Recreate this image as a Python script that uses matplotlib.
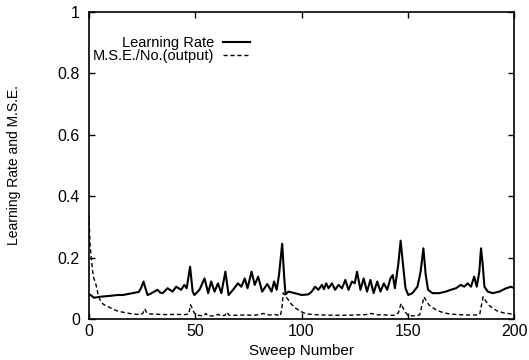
import matplotlib
matplotlib.use("Agg")
import matplotlib.pyplot as plt

plt.rcParams['font.family'] = ['Liberation Sans', 'DejaVu Sans']

# Learning rate per sweep
lr_sweep = [0, 0.8, 2.4, 5, 8, 11, 13.4, 16, 19, 21.3,
            23.5, 24.5, 25.7, 26.6, 27.6, 29, 30.7, 32.3, 33.5, 34.7,
            37.0, 39.4, 41.0, 43.4, 44.9, 46.0, 47.6, 48.8, 49.6, 52.0,
            54.4, 56.1, 57.5, 59.1, 60.7, 62.3, 64.2, 65.7, 67.8, 70.1,
            71.7, 73.3, 74.6, 76.5, 78.0, 79.6, 81.5, 83.9, 85.9, 87.1,
            88.3, 89.4, 90.9, 91.9, 92.5, 93.8, 96.9, 100.1, 103.2, 104.8,
            106.4, 107.9, 109.6, 110.5, 111.6, 112.7, 114.3, 115.8, 117.4, 119.0,
            120.6, 122.1, 123.7, 125.0, 126.1, 127.7, 129.2, 130.8, 132.4, 133.9,
            135.6, 137.1, 138.7, 140.3, 141.8, 142.9, 143.9, 145.5, 146.6, 147.7,
            148.9, 150.2, 152.1, 154.5, 156.0, 157.3, 158.4, 159.5, 161.6, 164.7,
            167.8, 170.2, 172.6, 174.9, 176.5, 178.1, 179.7, 181.2, 182.4, 183.6,
            184.4, 185.2, 186.0, 187.6, 189.9, 193.0, 196.2, 198.6, 200]
lr_value = [0.080, 0.078, 0.069, 0.072, 0.074, 0.076, 0.078, 0.078, 0.082, 0.085,
            0.088, 0.100, 0.122, 0.100, 0.078, 0.082, 0.089, 0.095, 0.086, 0.084,
            0.100, 0.089, 0.105, 0.095, 0.111, 0.100, 0.170, 0.089, 0.078, 0.095,
            0.132, 0.084, 0.122, 0.089, 0.116, 0.084, 0.154, 0.078, 0.095, 0.116,
            0.105, 0.132, 0.100, 0.154, 0.111, 0.138, 0.089, 0.114, 0.089, 0.122,
            0.095, 0.143, 0.245, 0.130, 0.080, 0.089, 0.084, 0.078, 0.080, 0.089,
            0.105, 0.095, 0.111, 0.097, 0.116, 0.100, 0.116, 0.095, 0.111, 0.100,
            0.127, 0.095, 0.122, 0.116, 0.154, 0.095, 0.132, 0.089, 0.127, 0.084,
            0.122, 0.089, 0.116, 0.095, 0.132, 0.143, 0.100, 0.178, 0.255, 0.178,
            0.100, 0.078, 0.084, 0.105, 0.154, 0.230, 0.143, 0.095, 0.084, 0.084,
            0.089, 0.095, 0.100, 0.111, 0.105, 0.116, 0.105, 0.138, 0.105, 0.154,
            0.230, 0.178, 0.105, 0.089, 0.084, 0.089, 0.100, 0.105, 0.100]

# Mean squared error per output unit
mse_sweep = [0, 0.5, 1.1, 2, 3.4, 4.5, 5.7, 7, 9, 11,
             13.4, 16, 19, 22.4, 24.5, 25.5, 26.3, 27.2, 29, 33,
             37, 41, 45, 47, 47.8, 48.6, 49.5, 51, 54, 55,
             56, 59, 61, 62, 64, 64.8, 66, 70, 73, 77,
             80, 82, 84, 88, 90, 90.7, 91.4, 92.3, 93.5, 95,
             97, 99, 101, 103, 106, 110, 115, 120, 125, 130,
             133, 135, 138, 141, 144, 145.5, 146.8, 147.8, 148.8, 150,
             152, 154, 155.5, 156.5, 157.6, 158.6, 160, 162, 164, 167,
             170, 174, 178, 182, 183.8, 184.6, 185.4, 186.5, 188, 190,
             192, 195, 198, 200]
mse_value = [0.340, 0.250, 0.200, 0.140, 0.110, 0.075, 0.055, 0.047, 0.040, 0.033,
             0.026, 0.022, 0.018, 0.015, 0.014, 0.020, 0.033, 0.020, 0.016, 0.015,
             0.014, 0.015, 0.014, 0.016, 0.046, 0.035, 0.020, 0.012, 0.010, 0.018,
             0.010, 0.010, 0.015, 0.010, 0.012, 0.022, 0.012, 0.012, 0.013, 0.012,
             0.014, 0.018, 0.013, 0.014, 0.010, 0.030, 0.085, 0.075, 0.065, 0.050,
             0.036, 0.027, 0.020, 0.016, 0.014, 0.013, 0.012, 0.012, 0.013, 0.014,
             0.018, 0.013, 0.014, 0.012, 0.012, 0.020, 0.050, 0.035, 0.022, 0.012,
             0.010, 0.011, 0.013, 0.040, 0.072, 0.060, 0.045, 0.035, 0.027, 0.020,
             0.016, 0.014, 0.013, 0.013, 0.015, 0.045, 0.072, 0.060, 0.045, 0.035,
             0.026, 0.020, 0.017, 0.015]

x_ticks = [0, 50, 100, 150, 200]
y_ticks = [0, 0.2, 0.4, 0.6, 0.8, 1]
y_tick_labels = ["0", "0.2", "0.4", "0.6", "0.8", "1"]

fig = plt.figure(figsize=(5.29, 3.60), dpi=100)
ax = fig.add_axes([0.168, 0.114, 0.804, 0.853])

ax.plot(lr_sweep, lr_value, color="black", lw=1.5, label="Learning Rate")
ax.plot(mse_sweep, mse_value, color="black", lw=1.0, dashes=(3, 2),
        label="M.S.E./No.(output)")

ax.set_xlim(0, 200)
ax.set_ylim(0, 1)
ax.set_xticks(x_ticks)
ax.set_yticks(y_ticks)
ax.set_yticklabels(y_tick_labels)
ax.tick_params(direction="in", length=4.3, width=1, top=True, right=True,
               labelsize=11.5)
ax.tick_params(axis="x", pad=3.5)
ax.tick_params(axis="y", pad=6.5)
for s in ax.spines.values():
    s.set_linewidth(1.2)

ax.set_xlabel("Sweep Number", fontsize=11)
ax.xaxis.set_label_coords(0.5, -0.083)
ax.set_ylabel("Learning Rate and M.S.E.", fontsize=10)
ax.yaxis.set_label_coords(-0.16, 0.5)

leg = ax.legend(loc="upper left", bbox_to_anchor=(-0.012, 0.95), frameon=False,
                markerfirst=False, fontsize=10.5, handlelength=1.9,
                handletextpad=0.6, labelspacing=-0.09, borderaxespad=0.2)
for t in leg.get_texts():
    t.set_ha("right")

fig.savefig("out.png", dpi=100)
